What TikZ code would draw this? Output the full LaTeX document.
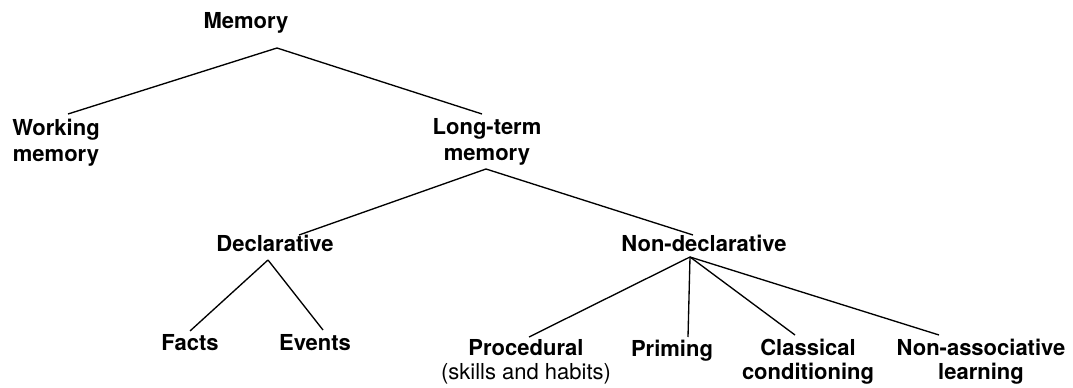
\documentclass[tikz,border=0pt]{standalone}
\usepackage{fontspec}
\setmainfont{TeX Gyre Heros}
\usetikzlibrary{calc}
\begin{document}
\begin{tikzpicture}[x=0.75pt,y=-0.75pt,
  lbl/.style={inner sep=0pt, anchor=base, align=center,
    font=\bfseries\fontsize{16.5}{19.5}\selectfont},
  lowlbl/.style={lbl, font=\bfseries\fontsize{16.5}{17.6}\selectfont},
  link/.style={draw=black, line width=1pt}]
\useasboundingbox (0,0) rectangle (1073,388);
% nodes (base = baseline of last line)
\node[lbl] (mem) at (246,29) {Memory};
\node[lbl] (wm) at (56,162) {Working\\memory};
\node[lbl] (ltm) at (487,161) {Long-term\\memory};
\node[lbl] (decl) at (275,252) {Declarative};
\node[lbl] (nondecl) at (704,252) {Non-declarative};
\node[lbl] (facts) at (190,350) {Facts};
\node[lbl] (events) at (315,350) {Events};
\node[lowlbl] (proc) at (526,379) {Procedural\\{\mdseries (skills and habits)}};
\node[lowlbl] (prim) at (672,356) {Priming};
\node[lowlbl] (class) at (808,379) {Classical\\conditioning};
\node[lowlbl] (nonassoc) at (981,379) {Non-associative\\learning};
% connectors
\draw[link] ($(mem.base)+(31,19)$) -- ($(wm.base)+(12,-48)$);
\draw[link] ($(mem.base)+(31,19)$) -- ($(ltm.base)+(-5,-47)$);
\draw[link] ($(ltm.base)+(-1,8)$) -- ($(decl.base)+(24,-17)$);
\draw[link] ($(ltm.base)+(-1,8)$) -- ($(nondecl.base)+(-11,-17)$);
\draw[link] ($(decl.base)+(-7,8)$) -- ($(facts.base)+(0,-19)$);
\draw[link] ($(decl.base)+(-7,8)$) -- ($(events.base)+(8,-20)$);
\draw[link] ($(nondecl.base)+(-14,5)$) -- ($(proc.base)+(3,-42)$);
\draw[link] ($(nondecl.base)+(-14,5)$) -- ($(prim.base)+(16,-19)$);
\draw[link] ($(nondecl.base)+(-14,5)$) -- ($(class.base)+(-13,-44)$);
\draw[link] ($(nondecl.base)+(-14,5)$) -- ($(nonassoc.base)+(-42,-44)$);
\end{tikzpicture}
\end{document}
